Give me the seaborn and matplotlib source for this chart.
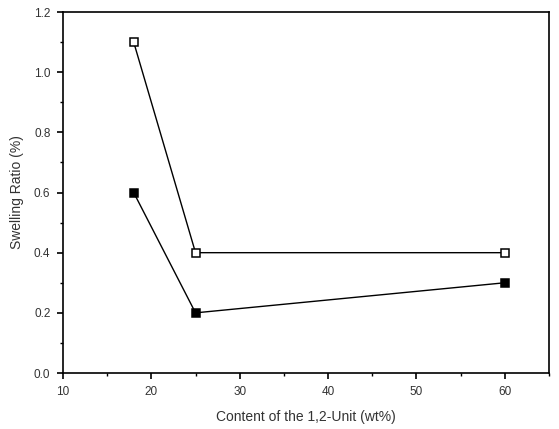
import numpy as np
import pandas as pd
import matplotlib
matplotlib.use('Agg')
import matplotlib.pyplot as plt
import seaborn as sns
from matplotlib.ticker import MultipleLocator

content = [18, 25, 60]
ratio_open = [1.1, 0.4, 0.4]
ratio_filled = [0.6, 0.2, 0.3]

sns.set_style('ticks')
plt.rcParams['font.family'] = ['Liberation Sans', 'DejaVu Sans']

fig = plt.figure(figsize=(5.59, 4.29), dpi=100)
ax = fig.add_axes([0.1127, 0.1305, 0.8693, 0.8415])

sns.lineplot(x=content, y=ratio_open, ax=ax, color='black', lw=1,
             marker='s', markersize=5.8, markerfacecolor='white',
             markeredgecolor='black', markeredgewidth=1.1)
sns.lineplot(x=content, y=ratio_filled, ax=ax, color='black', lw=1,
             marker='s', markersize=5.8, markerfacecolor='black',
             markeredgecolor='black', markeredgewidth=1.1)

ax.set_xlim(10, 65)
ax.set_ylim(0, 1.2)
ax.xaxis.set_major_locator(MultipleLocator(10))
ax.xaxis.set_minor_locator(MultipleLocator(5))
ax.yaxis.set_major_locator(MultipleLocator(0.2))
ax.yaxis.set_minor_locator(MultipleLocator(0.1))
ax.yaxis.set_major_formatter(matplotlib.ticker.FormatStrFormatter('%.1f'))

for s in ax.spines.values():
    s.set_visible(True)
    s.set_color('black')
    s.set_linewidth(1.2)
ax.tick_params(which='major', direction='out', length=4, width=1.2,
               labelsize=8.5, pad=5)
ax.tick_params(which='minor', direction='out', length=2.5, width=1)
ax.tick_params(colors='black', which='both', labelcolor='#333333')

ax.set_xlabel('Content of the 1,2-Unit (wt%)', fontsize=10, color='#333333', labelpad=9)
ax.set_ylabel('Swelling Ratio (%)', fontsize=10, color='#333333', labelpad=7)

fig.savefig('out.png', dpi=100)
